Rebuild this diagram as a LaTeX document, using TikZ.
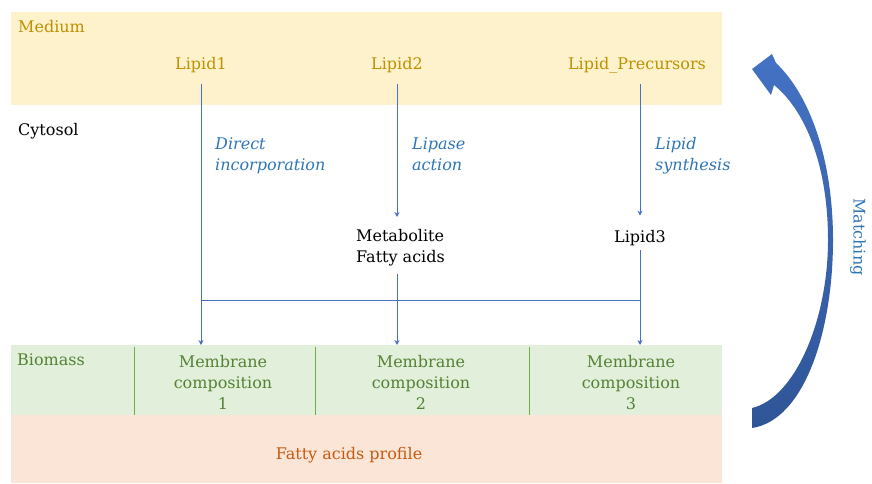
\documentclass[tikz,border=0pt]{standalone}
\usepackage{fontspec}
\setmainfont{DejaVu Serif}
\usetikzlibrary{arrows.meta}
\definecolor{mediumfill}{HTML}{FEF2CC}
\definecolor{mediumtext}{HTML}{BF9000}
\definecolor{biofill}{HTML}{E2EFDA}
\definecolor{biotext}{HTML}{548235}
\definecolor{bioline}{HTML}{70AD47}
\definecolor{proffill}{HTML}{FBE5D6}
\definecolor{proftext}{HTML}{C55A11}
\definecolor{flowblue}{HTML}{4472C4}
\definecolor{labelblue}{HTML}{2E75B6}
\definecolor{arrowdark}{HTML}{2F5597}
\begin{document}
\begin{tikzpicture}[x=1pt,y=-1pt,
  txt/.style={inner sep=0pt,font=\fontsize{16}{21}\selectfont},
  medtxt/.style={txt,text=mediumtext,anchor=base},
  blacktxt/.style={txt,text=black},
  lbl/.style={txt,text=labelblue,font=\fontsize{16}{21}\selectfont\itshape,align=left,anchor=base west},
  biotxt/.style={txt,text=biotext,align=center,anchor=north},
  flow/.style={draw=flowblue,line width=0.9pt,-{Stealth[length=5pt,width=5pt]}},
  flowline/.style={draw=flowblue,line width=0.9pt},
  band/.style={draw=none,inner sep=0pt,anchor=north west},
  divider/.style={draw=bioline,line width=0.9pt}
]
\useasboundingbox (0,0) rectangle (872,483);
% bands
\node[band,fill=mediumfill,minimum width=711pt,minimum height=93pt] (medium) at (11,12) {};
\node[band,fill=biofill,minimum width=711pt,minimum height=70pt] (biomass) at (11,345) {};
\node[band,fill=proffill,minimum width=711pt,minimum height=68pt] (profile) at (11,415) {};
% cells
\node[band,minimum width=181pt,minimum height=70pt] (cell1) at (134,345) {};
\node[band,minimum width=214pt,minimum height=70pt] (cell2) at (315,345) {};
\node[band,minimum width=193pt,minimum height=70pt] (cell3) at (529,345) {};
\draw[divider] (cell1.north west) ++(0,2) -- (cell1.south west);
\draw[divider] (cell2.north west) ++(0,2) -- (cell2.south west);
\draw[divider] (cell3.north west) ++(0,2) -- (cell3.south west);
% texts
\node[medtxt,anchor=base west] (medlbl) at (18,32) {Medium};
\node[medtxt] (lip1) at (201,69) {Lipid1};
\node[medtxt] (lip2) at (397,69) {Lipid2};
\node[medtxt] (lipp) at (637,69) {Lipid\_Precursors};
\node[blacktxt,anchor=base west] (cyto) at (18,135) {Cytosol};
\node[lbl] (l1) at (215,170) {Direct\\incorporation};
\node[lbl] (l2) at (412,170) {Lipase\\action};
\node[lbl] (l3) at (655,170) {Lipid\\synthesis};
\node[blacktxt,align=left,anchor=north west] (met) at (356,229) {Metabolite\\Fatty acids};
\node[blacktxt,anchor=base] (lip3) at (640,242) {Lipid3};
\node[txt,text=biotext,anchor=base west] (biolbl) at (17,365) {Biomass};
\node[biotxt] (mc1) at (223,355) {Membrane\\composition\\1};
\node[biotxt] (mc2) at (421,355) {Membrane\\composition\\2};
\node[biotxt] (mc3) at (631,355) {Membrane\\composition\\3};
\node[txt,text=proftext,anchor=base] (prof) at (349,459) {Fatty acids profile};
% connectors
\coordinate (junc) at (201,300);
\draw[flow,shorten <=11pt] (lip1.south) -- (lip1.south |- cell1.north);
\draw[flow,shorten <=11pt,shorten >=12pt] (lip2.south) -- (lip2.south |- met.north);
\draw[flow,shorten <=11pt,shorten >=14pt] (lipp.south -| lip3) -- (lip3.north);
\draw[flow,shorten <=8pt] (met.south -| lip2) -- (lip2 |- cell2.north);
\draw[flow,shorten <=4pt] (lip3.south) -- (lip3.south |- cell3.north);
\draw[flowline] (junc) -- (junc -| lip3);
% curved arrow
\shade[top color=flowblue,bottom color=arrowdark]
  (776,63) .. controls (810,95) and (833,160) .. (833,240)
  .. controls (833,330) and (805,420) .. (752,428)
  -- (752,408)
  .. controls (795,398) and (828,320) .. (828,240)
  .. controls (828,165) and (805,110) .. (774,85)
  -- (771,95) -- (752,69) -- (772,54) -- cycle;
\node[txt,text=labelblue,rotate=-90] (match) at (858,237) {Matching};
\end{tikzpicture}
\end{document}
